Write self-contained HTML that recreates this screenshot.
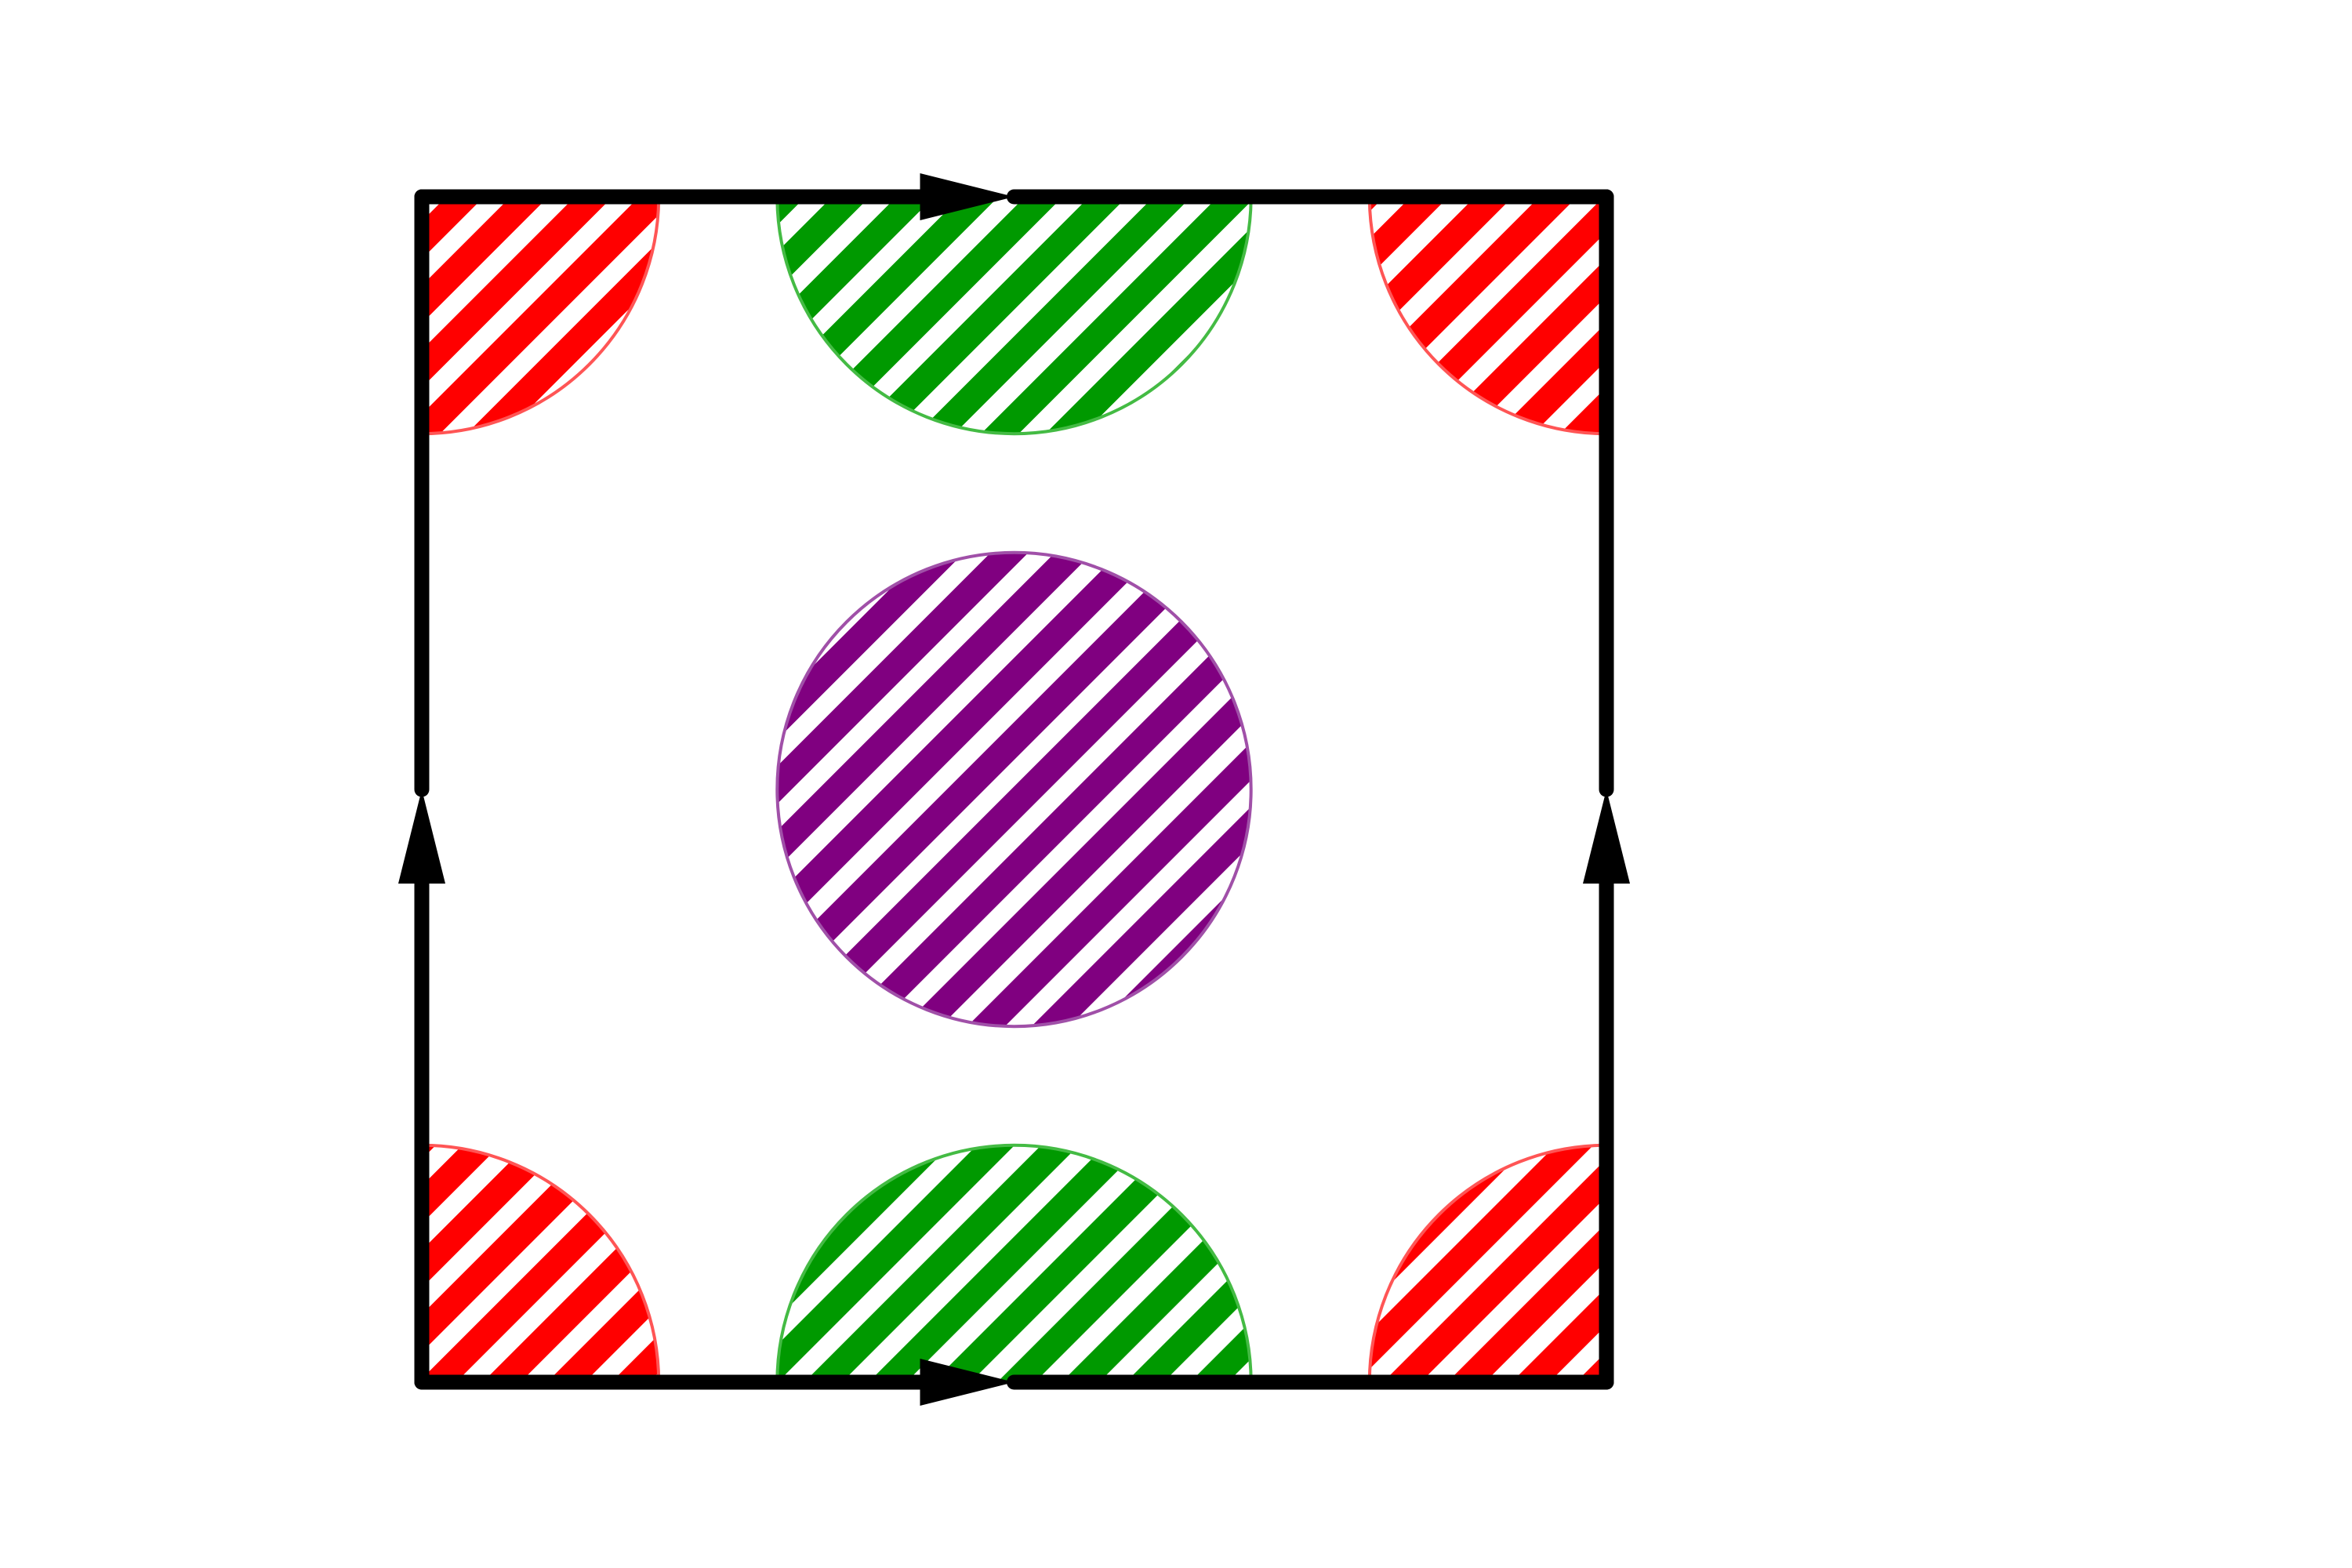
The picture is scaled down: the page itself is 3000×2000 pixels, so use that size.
<!DOCTYPE html>
<html><head><meta charset="utf-8"><style>
html,body{margin:0;padding:0;background:#fff;}
svg{display:block;}
</style></head><body>
<svg id="chart" width="3000" height="2000" viewBox="0 0 3000 2000" xmlns="http://www.w3.org/2000/svg">
<defs>
<clipPath id="sq"><rect x="538" y="251" width="1511" height="1512"/></clipPath>
</defs>
<g id="circles" clip-path="url(#sq)"></g>
<g id="frame"></g>
</svg>
<script>
const NS='http://www.w3.org/2000/svg';
const circleX=[0,0.5,1,0.5,0,0.5,1];
const circleY=[1,1,1,0.5,0,0,0];
const circleColor=['#ff0000','#009900','#ff0000','#800080','#ff0000','#009900','#ff0000'];
const circleEdge=['#ff5555','#44bb44','#ff5555','#a050a8','#ff5555','#44bb44','#ff5555'];
const circleNames=['red-circle-top-left','green-circle-top','red-circle-top-right','purple-circle-center','red-circle-bottom-left','green-circle-bottom','red-circle-bottom-right'];
const radius=[0.2];
const x0=538,x1=2049,y0=251,y1=1763;
const sx=v=>x0+v*(x1-x0);
const sy=v=>y1-v*(y1-y0);
const svg=document.getElementById('chart');
const defs=svg.querySelector('defs');
const g=document.getElementById('circles');
const R=radius[0]*(x1-x0);
circleColor.forEach((c,i)=>{
  const pid='hatch'+i;
  const p=document.createElementNS(NS,'pattern');
  p.setAttribute('id',pid);p.setAttribute('patternUnits','userSpaceOnUse');
  p.setAttribute('width','58');p.setAttribute('height','58');
  p.setAttribute('patternTransform','rotate(-45)');
  p.innerHTML='<rect x="0" y="0" width="58" height="34" fill="'+c+'"/>';
  defs.appendChild(p);
  const el=document.createElementNS(NS,'circle');
  
  
  el.setAttribute('cx',sx(circleX[i]));el.setAttribute('cy',sy(circleY[i]));
  el.setAttribute('r',R);el.setAttribute('fill','url(#'+pid+')');
  el.setAttribute('stroke',circleEdge[i]);el.setAttribute('stroke-width','4');
  g.appendChild(el);
});
const f=document.getElementById('frame');
const cx=(x0+x1)/2, cy=(y0+y1)/2;
const HL=120;
const segs=[[x0,y0,cx-HL,y0],[cx,y0,x1,y0],[x0,y1,cx-HL,y1],[cx,y1,x1,y1],[x0,y1,x0,cy+HL],[x0,cy,x0,y0],[x1,y1,x1,cy+HL],[x1,cy,x1,y0]];
const segNames=['top-edge-left','top-edge-right','bottom-edge-left','bottom-edge-right','left-edge-lower','left-edge-upper','right-edge-lower','right-edge-upper'];
segs.forEach((s,i)=>{
  const l=document.createElementNS(NS,'line');
  
  
  l.setAttribute('x1',s[0]);l.setAttribute('y1',s[1]);l.setAttribute('x2',s[2]);l.setAttribute('y2',s[3]);
  l.setAttribute('stroke','#000');l.setAttribute('stroke-width','19');l.setAttribute('stroke-linecap','round');
  f.appendChild(l);
});
const arrows=[
  [[cx,y0],[cx-HL,y0-30],[cx-HL,y0+30]],
  [[cx,y1],[cx-HL,y1-30],[cx-HL,y1+30]],
  [[x0,cy],[x0-30,cy+HL],[x0+30,cy+HL]],
  [[x1,cy],[x1-30,cy+HL],[x1+30,cy+HL]]
];
const arrowNames=['top-arrow','bottom-arrow','left-arrow','right-arrow'];
arrows.forEach((a,i)=>{
  const p=document.createElementNS(NS,'polygon');
  
  
  p.setAttribute('points',a.map(q=>q.join(',')).join(' '));
  p.setAttribute('fill','#000');
  f.appendChild(p);
});
</script>
</body></html>
